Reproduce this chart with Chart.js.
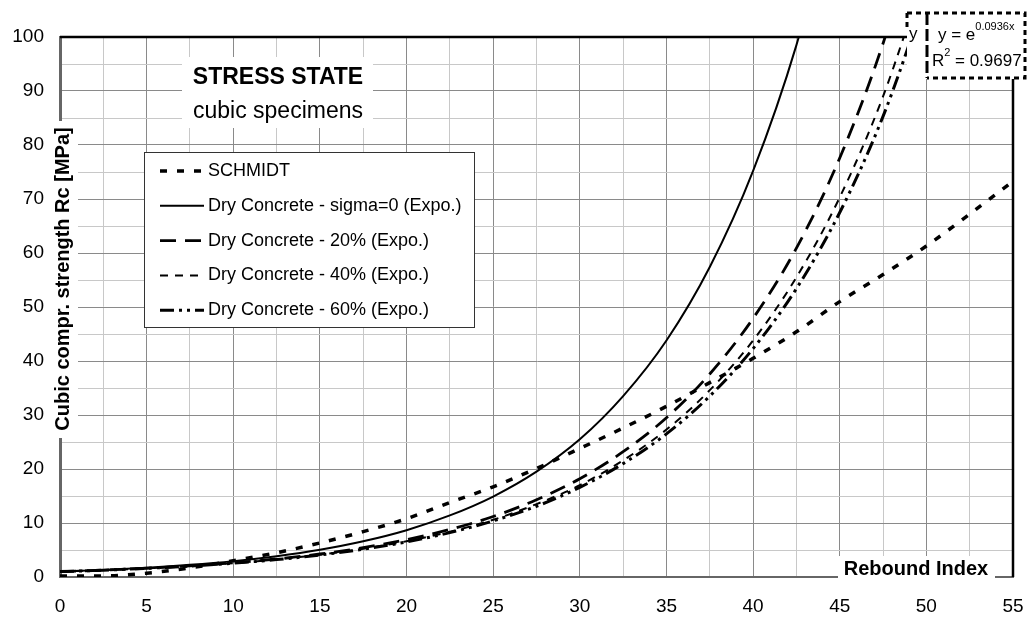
<!DOCTYPE html>
<html>
<head>
<meta charset="utf-8">
<script src="https://cdn.jsdelivr.net/npm/chart.js@4.4.1/dist/chart.umd.min.js"></script>
<style>
  html, body { margin: 0; padding: 0; background: #fff; }
  #wrap { width: 1027px; height: 620px; }
</style>
</head>
<body>
<div id="wrap"><canvas id="chart" width="1027" height="620"></canvas></div>
<script>
// rebound index positions (x) shared by every series
var rebound = [0, 2.5, 5, 7.5, 10, 12.5, 15, 17.5, 20, 22.5, 25, 27.5, 30, 32.5, 35, 37.5, 40, 42.5, 45, 47.5, 50, 52.5, 55];

// cubic strength Rc [MPa]
var schmidt = [0.2, 0.2, 0.7, 1.7, 3.0, 4.5, 6.3, 8.4, 10.8, 13.8, 16.7, 20.1, 23.8, 27.6, 31.6, 36.0, 40.5, 45.4, 51.0, 56.0, 61.3, 67.2, 73.3];
var sigma0 = [1.00, 1.31, 1.72, 2.25, 2.94, 3.86, 5.05, 6.62, 8.67, 11.4, 14.9, 19.5, 25.5, 33.5, 43.8, 57.4, 75.2, 98.5, 129.0];
var dry20 = [1.00, 1.27, 1.62, 2.07, 2.63, 3.35, 4.26, 5.43, 6.92, 8.81, 11.2, 14.3, 18.2, 23.2, 29.5, 37.6, 47.9, 60.9, 77.6, 98.8, 125.8];
var dry40 = [1.00, 1.27, 1.60, 2.03, 2.57, 3.26, 4.13, 5.23, 6.62, 8.38, 10.6, 13.5, 17.0, 21.6, 27.3, 34.6, 43.8, 55.5, 70.3, 89.0, 112.7];
var dry60 = [1.00, 1.26, 1.60, 2.02, 2.55, 3.22, 4.07, 5.15, 6.50, 8.22, 10.4, 13.1, 16.6, 21.0, 26.5, 33.5, 42.3, 53.4, 67.5, 85.3, 107.8];

var seriesNames = ['SCHMIDT', 'Dry Concrete - sigma=0 (Expo.)', 'Dry Concrete - 20% (Expo.)',
  'Dry Concrete - 40% (Expo.)', 'Dry Concrete - 60% (Expo.)'];

// tick labels
var xTickLabels = [0, 5, 10, 15, 20, 25, 30, 35, 40, 45, 50, 55];
var yTickLabels = [0, 10, 20, 30, 40, 50, 60, 70, 80, 90, 100];

var FONT = '"Liberation Sans", Arial, sans-serif';

function points(values) {
  return values.map(function(v, i) {
    return {x: rebound[i], y: v};
  });
}

function line(label, values, width, dash) {
  return {
    label: label,
    data: points(values),
    borderColor: '#000',
    borderWidth: width,
    borderDash: dash,
    pointRadius: 0,
    fill: false,
    cubicInterpolationMode: 'monotone'
  };
}

// boxes, axis titles, legend and trendline label drawn on top
var decor = {
  id: 'decor',
  afterDraw: function(chart) {
    var c = chart.ctx;
    var a = chart.chartArea;
    c.save();

    // top and right frame
    c.strokeStyle = '#000';
    c.lineWidth = 2.5;
    c.beginPath();
    c.moveTo(a.left, a.top);
    c.lineTo(a.right, a.top);
    c.lineTo(a.right, a.bottom);
    c.stroke();

    c.fillStyle = '#000';
    c.textAlign = 'center';
    c.textBaseline = 'middle';

    // chart title
    c.fillStyle = '#fff';
    c.fillRect(182, 57, 191, 71);
    c.fillStyle = '#000';
    c.font = 'bold 23px ' + FONT;
    c.fillText('STRESS STATE', 278, 78);
    c.font = '23px ' + FONT;
    c.fillText('cubic specimens', 278, 112);

    // y axis title
    c.fillStyle = '#fff';
    c.fillRect(50, 121, 28, 317);
    c.save();
    c.translate(63, 279);
    c.rotate(-Math.PI / 2);
    c.fillStyle = '#000';
    c.font = 'bold 20px ' + FONT;
    c.fillText('Cubic compr. strength Rc [MPa]', 0, 0);
    c.restore();

    // x axis title
    c.fillStyle = '#fff';
    c.fillRect(838, 556, 157, 26);
    c.fillStyle = '#000';
    c.font = 'bold 20px ' + FONT;
    c.fillText('Rebound Index', 916, 569);

    // legend
    c.fillStyle = '#fff';
    c.fillRect(144, 152, 330, 175);
    c.strokeStyle = '#333';
    c.lineWidth = 1;
    c.strokeRect(144.5, 152.5, 330, 175);
    c.textAlign = 'left';
    c.font = '18px ' + FONT;
    chart.data.datasets.forEach(function(ds, i) {
      var y = 171 + i * 34.8;
      c.save();
      c.strokeStyle = '#000';
      c.lineWidth = ds.borderWidth;
      c.setLineDash(ds.borderDash || []);
      c.beginPath();
      c.moveTo(160, y);
      c.lineTo(204, y);
      c.stroke();
      c.restore();
      c.fillStyle = '#000';
      c.fillText(ds.label, 208, y);
    });

    // trendline equation label
    c.fillStyle = '#fff';
    c.fillRect(907, 13, 118, 66);
    c.strokeStyle = '#000';
    c.lineWidth = 3;
    c.setLineDash([5, 4]);
    c.beginPath();
    c.moveTo(907, 13);
    c.lineTo(1025, 13);
    c.lineTo(1025, 78);
    c.lineTo(927, 78);
    c.stroke();
    c.beginPath();
    c.moveTo(907, 13);
    c.lineTo(907, 30);
    c.stroke();
    c.setLineDash([12, 4]);
    c.beginPath();
    c.moveTo(927, 13);
    c.lineTo(927, 78);
    c.stroke();
    c.setLineDash([]);
    c.fillStyle = '#000';
    c.font = '17px ' + FONT;
    c.fillText('y', 909, 34);
    var x0 = 938;
    c.fillText('y = e', x0, 35);
    var w = c.measureText('y = e').width;
    c.font = '11px ' + FONT;
    c.fillText('0.0936x', x0 + w, 27);
    c.font = '17px ' + FONT;
    c.fillText('R', 932, 61);
    var wr = c.measureText('R').width;
    c.font = '11px ' + FONT;
    c.fillText('2', 932 + wr, 53);
    c.font = '17px ' + FONT;
    c.fillText(' = 0.9697', 932 + wr + 6, 61);

    c.restore();
  }
};

new Chart(document.getElementById('chart'), {
  type: 'line',
  data: {
    datasets: [
      line(seriesNames[0], schmidt, 3.5, [7, 10]),
      line(seriesNames[1], sigma0, 2, []),
      line(seriesNames[2], dry20, 2.8, [16, 9]),
      line(seriesNames[3], dry40, 2, [8, 7]),
      line(seriesNames[4], dry60, 3, [14, 5, 3, 5, 3, 5])
    ]
  },
  options: {
    responsive: false,
    animation: false,
    devicePixelRatio: 1,
    layout: {padding: {top: 37, right: 14, left: 0, bottom: 0}},
    plugins: {
      legend: {display: false},
      tooltip: {enabled: false}
    },
    scales: {
      x: {
        type: 'linear',
        min: 0,
        max: 55,
        afterFit: function(scale) {
          scale.height = 43;
          scale.paddingLeft = 0;
          scale.paddingRight = 0;
        },
        afterBuildTicks: function(scale) {
          var t = [];
          for (var i = 0; i < rebound.length; i++) {
            t.push({value: rebound[i]});
          }
          scale.ticks = t;
        },
        ticks: {
          autoSkip: false,
          maxRotation: 0,
          padding: 18,
          color: '#000',
          font: {family: FONT, size: 19},
          callback: function(v) {
            return xTickLabels.indexOf(v) >= 0 ? String(v) : '';
          }
        },
        grid: {
          drawTicks: false,
          lineWidth: 1,
          color: function(ctx) {
            return xTickLabels.indexOf(ctx.tick.value) >= 0 ? '#8a8a8a' : '#c8c8c8';
          }
        },
        border: {display: true, color: '#666', width: 2}
      },
      y: {
        type: 'linear',
        min: 0,
        max: 100,
        afterFit: function(scale) {
          scale.width = 60;
          scale.paddingTop = 0;
          scale.paddingBottom = 0;
        },
        ticks: {
          stepSize: 5,
          autoSkip: false,
          padding: 16,
          color: '#000',
          font: {family: FONT, size: 19},
          callback: function(v) {
            return yTickLabels.indexOf(v) >= 0 ? String(v) : '';
          }
        },
        grid: {
          drawTicks: false,
          lineWidth: 1,
          color: function(ctx) {
            return yTickLabels.indexOf(ctx.tick.value) >= 0 ? '#8a8a8a' : '#c8c8c8';
          }
        },
        border: {display: true, color: '#666', width: 3}
      }
    }
  },
  plugins: [decor]
});
</script>
</body>
</html>
